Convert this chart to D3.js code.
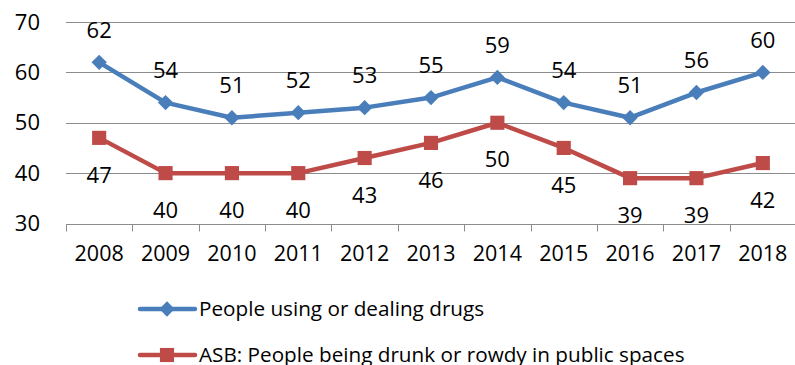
<!DOCTYPE html>
<html>
<head>
<meta charset="utf-8">
<script src="https://cdn.jsdelivr.net/npm/d3@7"></script>
<style>
  body { margin: 0; background: #fff; }
  svg text { font-family: "Open Sans", "Liberation Sans", sans-serif; fill: #000; }
</style>
</head>
<body>
<svg id="chart"></svg>
<script>
const years = ['2008', '2009', '2010', '2011', '2012', '2013', '2014', '2015', '2016', '2017', '2018'];
const drugs = [62, 54, 51, 52, 53, 55, 59, 54, 51, 56, 60];
const rowdy = [47, 40, 40, 40, 43, 46, 50, 45, 39, 39, 42];
const yTicks = [30, 40, 50, 60, 70];
const seriesNames = ['People using or dealing drugs', 'ASB: People being drunk or rowdy in public spaces'];

const width = 795, height = 365;
const margin = {top: 22, left: 66, right: -1, bottom: 141};
const axisFont = 21.5;
const labelFont = 22;

const svg = d3.select('#chart')
    .attr('width', width)
    .attr('height', height);

const xScale = d3.scaleBand()
    .domain(years)
    .range([margin.left, width - margin.right]);

const yScale = d3.scaleLinear()
    .domain([30, 70])
    .range([height - margin.bottom - 0.5, margin.top]);

// gridlines
svg.append('g')
  .selectAll('line')
  .data(yTicks.slice(1))
  .join('line')
    .attr('x1', margin.left)
    .attr('x2', width)
    .attr('y1', d => Math.round(yScale(d)) + 0.5)
    .attr('y2', d => Math.round(yScale(d)) + 0.5)
    .attr('stroke', '#8c8c8c')
    .attr('stroke-width', 1);

// y labels
svg.append('g')
  .selectAll('text')
  .data(yTicks)
  .join('text')
    .attr('x', 40)
    .attr('y', d => yScale(d))
    .attr('dy', '0.35em')
    .attr('text-anchor', 'end')
    .style('font-size', labelFont + 'px')
    .text(d => d);

// x axis
const xAxisY = Math.round(yScale(30)) + 0.5;
const xAxisG = svg.append('g');
xAxisG.append('line')
    .attr('x1', margin.left).attr('x2', width)
    .attr('y1', xAxisY).attr('y2', xAxisY)
    .attr('stroke', '#8c8c8c');
xAxisG.selectAll('.tick')
  .data(years)
  .join('line')
    .attr('class', 'tick')
    .attr('x1', d => Math.round(xScale(d)) + 0.5)
    .attr('x2', d => Math.round(xScale(d)) + 0.5)
    .attr('y1', xAxisY)
    .attr('y2', xAxisY + 7)
    .attr('stroke', '#8c8c8c');
xAxisG.selectAll('text')
  .data(years)
  .join('text')
    .attr('x', d => xScale(d) + xScale.bandwidth() / 2)
    .attr('y', xAxisY + 36)
    .attr('text-anchor', 'middle')
    .style('font-size', axisFont + 'px')
    .text(d => d);

const cx = (d, i) => xScale(years[i]) + xScale.bandwidth() / 2;
const line = d3.line().x(cx).y(d => yScale(d));

const series = [
    {name: seriesNames[0], values: drugs, color: '#4a7ebb', marker: 'diamond', labelDy: -32.5},
    {name: seriesNames[1], values: rowdy, color: '#be4b48', marker: 'square', labelDy: 37}
];

const diamond = d3.symbol().type(d3.symbolDiamond2).size(150);
const square = d3.symbol().type(d3.symbolSquare).size(200);

series.forEach(s => {
    const g = svg.append('g');
    g.append('path')
        .attr('d', line(s.values))
        .attr('fill', 'none')
        .attr('stroke', s.color)
        .attr('stroke-width', 4.5)
        .attr('stroke-linejoin', 'round');
    g.selectAll('path.mark')
      .data(s.values)
      .join('path')
        .attr('class', 'mark')
        .attr('d', s.marker === 'diamond' ? diamond : square)
        .attr('transform', (d, i) => `translate(${cx(d, i)},${yScale(d)})`)
        .attr('fill', s.color);
    g.selectAll('text')
      .data(s.values)
      .join('text')
        .attr('x', cx)
        .attr('y', d => yScale(d) + s.labelDy)
        .attr('dy', '0.35em')
        .attr('text-anchor', 'middle')
        .style('font-size', labelFont + 'px')
        .text(d => d);
});

// legend
const legend = svg.append('g');
series.forEach((s, i) => {
    const ly = 309 + i * 46;
    legend.append('line')
        .attr('x1', 140).attr('x2', 195)
        .attr('y1', ly).attr('y2', ly)
        .attr('stroke', s.color)
        .attr('stroke-width', 4.5)
        .attr('stroke-linecap', 'round');
    legend.append('path')
        .attr('d', s.marker === 'diamond' ? diamond : square)
        .attr('transform', `translate(167,${ly})`)
        .attr('fill', s.color);
    legend.append('text')
        .attr('x', 199)
        .attr('y', ly)
        .attr('dy', '0.35em')
        .style('font-size', '20.7px')
        .text(s.name);
});
</script>
</body>
</html>
